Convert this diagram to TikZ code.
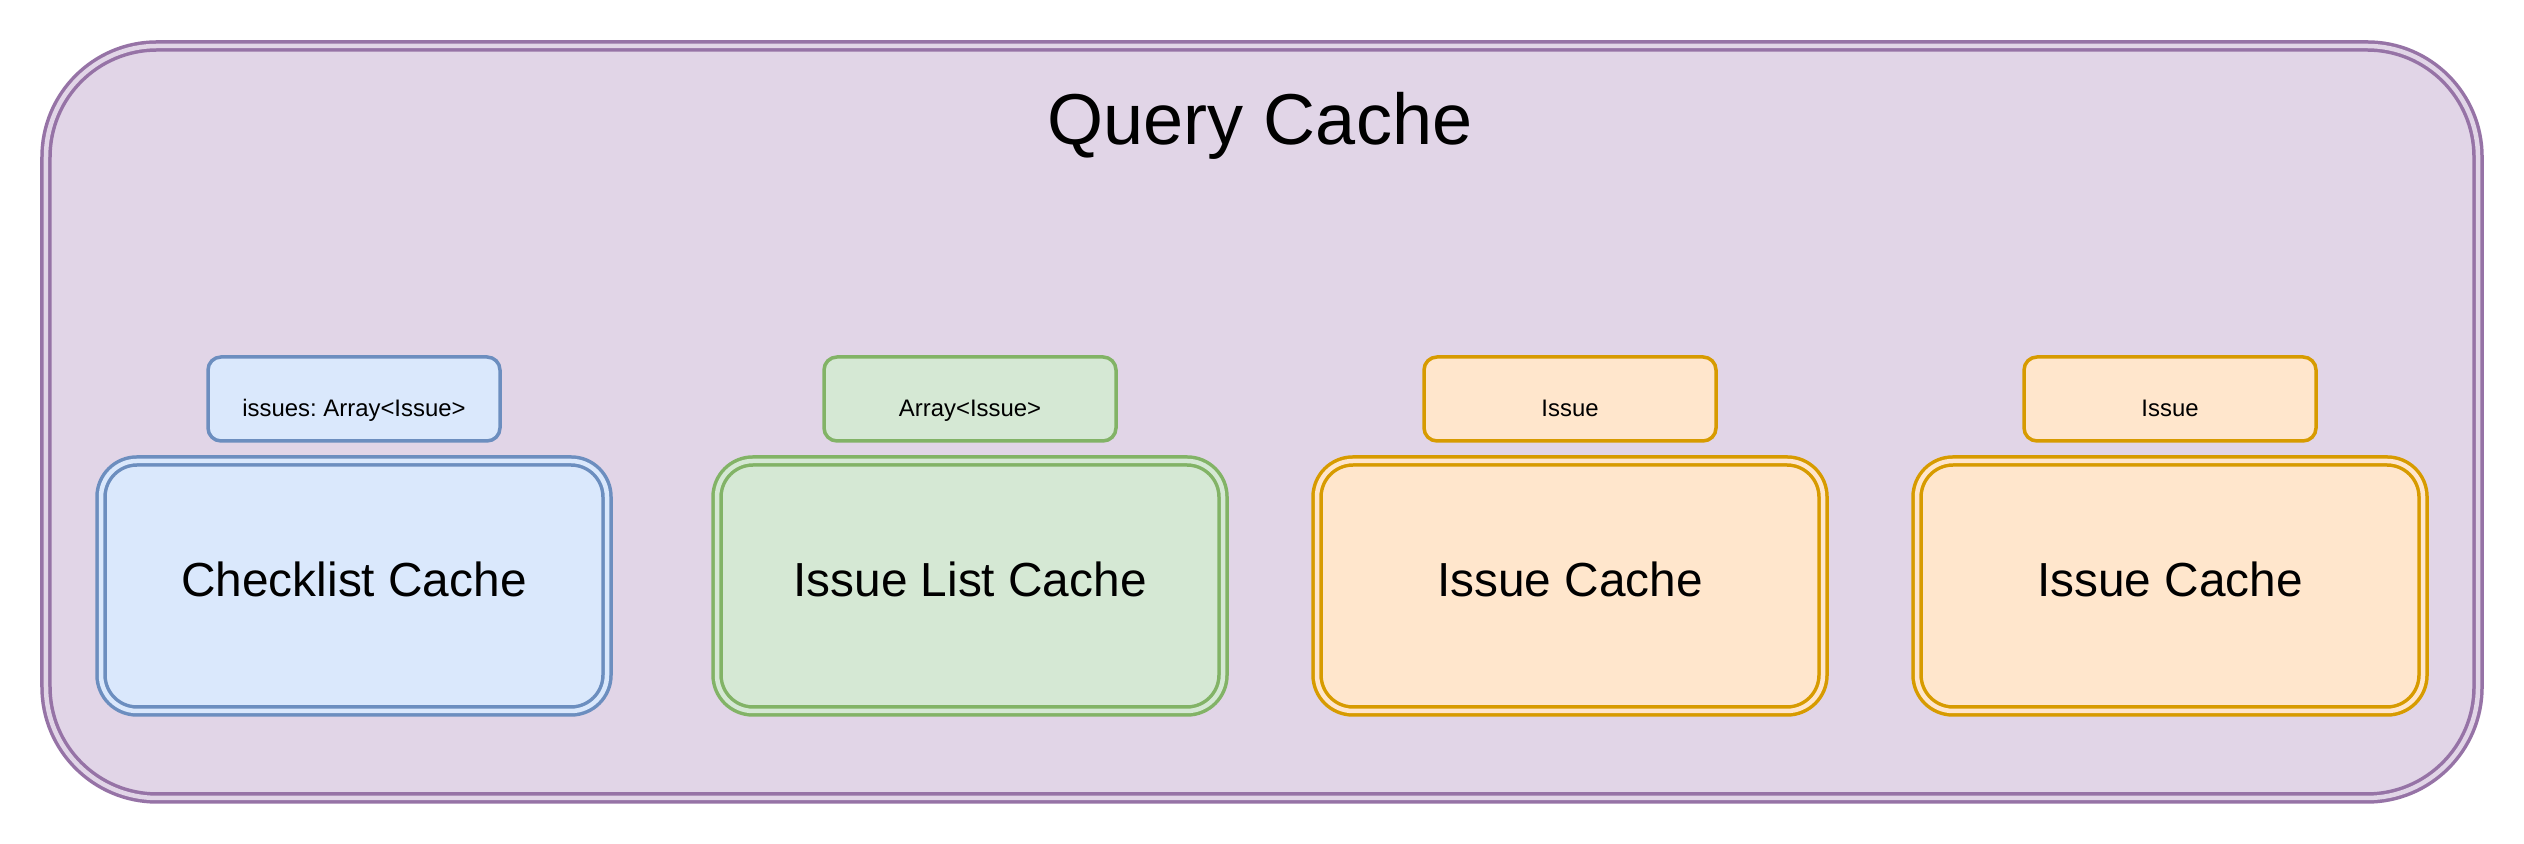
\documentclass[tikz,border=0pt]{standalone}
\usepackage{fontspec}
\setmainfont{Liberation Sans}
\usetikzlibrary{positioning}
\definecolor{qcfill}{HTML}{E1D5E7}
\definecolor{qcline}{HTML}{9673A6}
\definecolor{bluefill}{HTML}{DAE8FC}
\definecolor{blueline}{HTML}{6C8EBF}
\definecolor{greenfill}{HTML}{D5E8D4}
\definecolor{greenline}{HTML}{82B366}
\definecolor{orangefill}{HTML}{FFE6CC}
\definecolor{orangeline}{HTML}{D79B00}
\frenchspacing
\begin{document}
\begin{tikzpicture}[
    outerbox/.style={draw=qcline, fill=qcfill, double=qcfill, double distance=0.045cm,
      line width=0.035cm, rounded corners=1.11cm, minimum width=24.32cm,
      minimum height=7.52cm, inner sep=0pt, outer sep=0pt},
    cache/.style={double distance=0.045cm, line width=0.035cm, rounded corners=0.36cm,
      minimum width=5.06cm, minimum height=2.5cm, inner sep=0pt, outer sep=0pt,
      text height=0.57em, text depth=0pt, font=\fontsize{13.6}{16}\selectfont},
    tag/.style={line width=0.035cm, rounded corners=0.13cm, minimum width=2.92cm,
      minimum height=0.84cm, inner sep=0pt, outer sep=0pt,
      text height=1em, text depth=0pt, font=\fontsize{6.8}{8}\selectfont},
    blue/.style={draw=blueline, fill=bluefill, double=bluefill},
    green/.style={draw=greenline, fill=greenfill, double=greenfill},
    orange/.style={draw=orangeline, fill=orangefill, double=orangefill},
  ]
  \useasboundingbox (0,0) rectangle (25.24,8.44);
  \node[outerbox] (qc) at (12.62,4.22) {};
  \node[anchor=base, font=\fontsize{20.5}{24}\selectfont] (title) at (12.60,6.99) {Query Cache};

  % the four caches
  \node[cache, blue] (checklist) at (3.54,2.58) {Checklist Cache};
  \node[cache, green] (issuelist) at (9.70,2.58) {Issue List Cache};
  \node[cache, orange] (issue1) at (15.70,2.58) {Issue Cache};
  \node[cache, orange] (issue2) at (21.70,2.58) {Issue Cache};

  % what each one holds
  \node[tag, draw=blueline, fill=bluefill, above=0.2cm of checklist] (checklisttype) {issues: Array<Issue>};
  \node[tag, draw=greenline, fill=greenfill, above=0.2cm of issuelist] (issuelisttype) {Array<Issue>};
  \node[tag, draw=orangeline, fill=orangefill, above=0.2cm of issue1] (issue1type) {Issue};
  \node[tag, draw=orangeline, fill=orangefill, above=0.2cm of issue2] (issue2type) {Issue};
\end{tikzpicture}
\end{document}
